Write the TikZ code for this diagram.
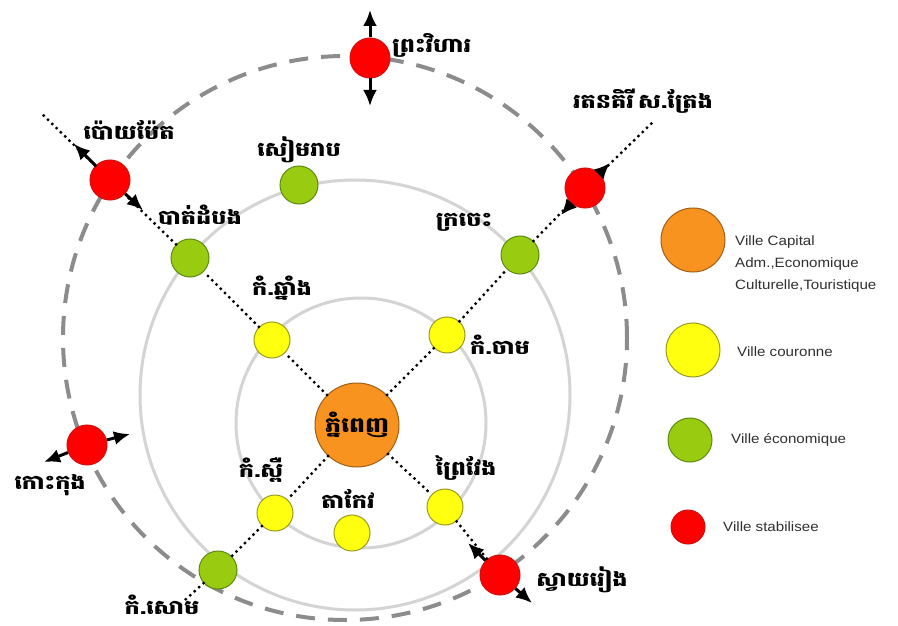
\documentclass[tikz,border=0pt]{standalone}
\usepackage{fontspec}
\setmainfont{Liberation Sans}
\newfontfamily\khmer[Script=Khmer]{Battambang}
\usetikzlibrary{arrows.meta}
\definecolor{cOrange}{HTML}{F7931E}
\definecolor{cOrangeB}{HTML}{A0601A}
\definecolor{cYellow}{HTML}{FFFF10}
\definecolor{cYellowB}{HTML}{9A9A20}
\definecolor{cGreen}{HTML}{99CC11}
\definecolor{cGreenB}{HTML}{5E8A10}
\definecolor{cRed}{HTML}{FF0000}
\definecolor{cRedB}{HTML}{D01010}
\definecolor{ringLight}{HTML}{D4D4D4}
\definecolor{ringDark}{HTML}{8C8C8C}
\definecolor{legText}{HTML}{303030}
\begin{document}
\begin{tikzpicture}[x=1pt,y=-1pt,
  city/.style={circle, draw, line width=1pt, inner sep=0pt},
  capital/.style={city, fill=cOrange, draw=cOrangeB, minimum size=84pt},
  crown/.style={city, fill=cYellow, draw=cYellowB, minimum size=36pt},
  econ/.style={city, fill=cGreen, draw=cGreenB, minimum size=38pt},
  stab/.style={city, fill=cRed, draw=cRedB, minimum size=40pt},
  lbl/.style={font=\khmer\bfseries\fontsize{20}{20}\selectfont, inner sep=0pt, xscale=1.2},
  leg/.style={font=\fontsize{13.5}{22}\selectfont, text=legText, inner sep=0pt, anchor=west, align=left, xscale=1.12},
  link/.style={line width=3.3pt, line cap=round, dash pattern=on 0pt off 6pt},
  arr/.style={-{Latex[length=16pt,width=14pt]}, line width=3pt},
  ringc/.style={draw=ringLight, line width=3pt},
  outer/.style={draw=ringDark, line width=4pt, dash pattern=on 19pt off 13pt}
]
\useasboundingbox[fill=white] (0,0) rectangle (898,626);

% rings
\draw[ringc] (361,423) circle[radius=125pt];
\draw[ringc] (355,395) circle[radius=215pt];
\draw[outer] (345,338) circle[radius=282pt];

% cities
\node[capital] (pp) at (357,425) {};
\node[lbl, font=\khmer\bfseries\fontsize{21}{21}\selectfont] at (pp) {ភ្នំពេញ};
\node[crown] (kch) at (272,340) {};
\node[crown] (kcm) at (447,335) {};
\node[crown] (ksp) at (275,513) {};
\node[crown] (tko) at (352,533) {};
\node[crown] (pvg) at (445,507) {};
\node[econ] (btb) at (190,258) {};
\node[econ] (srp) at (299,185) {};
\node[econ] (kra) at (520,255) {};
\node[econ] (kso) at (218,570) {};
\node[stab] (phv) at (370,58) {};
\node[stab] (poi) at (110,180) {};
\node[stab] (rtk) at (585,188) {};
\node[stab] (svr) at (500,575) {};
\node[stab] (kkg) at (87,445) {};

% free ends
\coordinate (nwEnd) at (40,112);
\coordinate (neEnd) at (655,120);
\coordinate (swEnd) at (185,600);
\coordinate (phvN) at (370,10);
\coordinate (phvS) at (370,106);
\coordinate (poiNW) at (74,144);
\coordinate (poiSE) at (143,210);
\coordinate (rtkNE) at (610,163);
\coordinate (rtkSW) at (561,215);
\coordinate (svrNW) at (468,543);
\coordinate (svrSE) at (532,603);
\coordinate (kkgW) at (44,462);
\coordinate (kkgE) at (130,434);

% dotted links
\draw[link] (pp) -- (kch);
\draw[link] (kch) -- (btb);
\draw[link] (btb) -- (poi);
\draw[link] (poi) -- (nwEnd);
\draw[link] (pp) -- (kcm);
\draw[link] (kcm) -- (kra);
\draw[link] (kra) -- (rtk);
\draw[link] (rtk) -- (neEnd);
\draw[link] (pp) -- (ksp);
\draw[link] (ksp) -- (kso);
\draw[link] (kso) -- (swEnd);
\draw[link] (pp) -- (pvg);
\draw[link] (pvg) -- (svr);

% arrows
\draw[arr] (phv) -- (phvN);
\draw[arr] (phv) -- (phvS);
\draw[arr] (poi) -- (poiNW);
\draw[arr] (poi) -- (poiSE);
\draw[arr] (rtk) -- (rtkNE);
\draw[arr] (rtk) -- (rtkSW);
\draw[arr] (svr) -- (svrNW);
\draw[arr] (svr) -- (svrSE);
\draw[arr] (kkg) -- (kkgW);
\draw[arr] (kkg) -- (kkgE);

% labels
\node[lbl, anchor=west] (lphv) at (392,45) {ព្រះវិហារ};
\node[lbl] (lpoi) at (129,130) {ប៉ោយប៉ែត};
\node[lbl] (lbtb) at (200,215) {បាត់ដំបង};
\node[lbl] (lsrp) at (299,150) {សៀមរាប};
\node[lbl] (lkra) at (464,222) {ក្រចេះ};
\node[lbl] (lrtk) at (643,101) {រតនគិរី\,ស.ត្រែង};
\node[lbl] (lkch) at (282,288) {កំ.ឆ្នាំង};
\node[lbl, anchor=west] (lkcm) at (470,345) {កំ.ចាម};
\node[lbl] (lksp) at (261,470) {កំ.ស្ពឺ};
\node[lbl] (ltko) at (348,499) {តាកែវ};
\node[lbl] (lpvg) at (466,468) {ព្រៃវែង};
\node[lbl] (lsvr) at (582,580) {ស្វាយរៀង};
\node[lbl] (lkso) at (162,605) {កំ.សោម};
\node[lbl] (lkkg) at (50,485) {កោះកុង};

% legend
\node[city, fill=cOrange, draw=cOrangeB, minimum size=64pt] (legA) at (693,240) {};
\node[leg] (legAt) at (735,264) {Ville Capital\\Adm.,Economique\\Culturelle,Touristique};
\node[city, fill=cYellow, draw=cYellowB, minimum size=54pt] (legB) at (693,350) {};
\node[leg] (legBt) at (737,352) {Ville couronne};
\node[city, fill=cGreen, draw=cGreenB, minimum size=44pt] (legC) at (690,440) {};
\node[leg] (legCt) at (731,440) {Ville économique};
\node[city, fill=cRed, draw=cRedB, minimum size=34pt] (legD) at (688,527) {};
\node[leg] (legDt) at (723,527) {Ville stabilisee};
\end{tikzpicture}
\end{document}
